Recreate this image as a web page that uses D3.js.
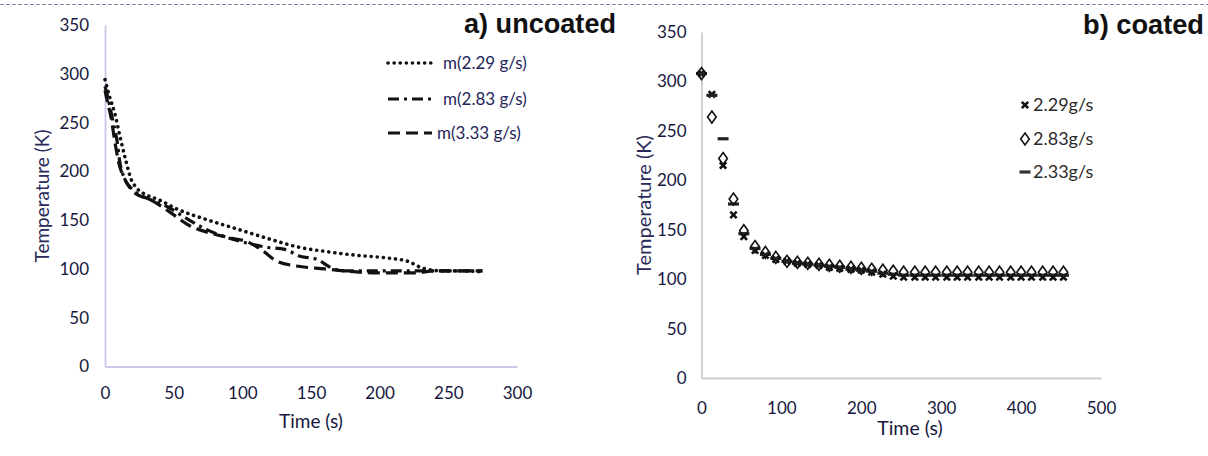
<!DOCTYPE html>
<html><head><meta charset="utf-8">
<script src="https://cdn.jsdelivr.net/npm/d3@7"></script>
<style>
html,body{margin:0;padding:0;background:#fff;}
svg{display:block;}
</style></head>
<body>
<svg id="c" width="1208" height="456"></svg>
<script>
// ---------- Panel a) uncoated : line data ----------
const aTimes229 = [0, 3, 7, 11.5, 15, 19, 23, 30, 39, 53, 73, 96, 119, 142, 160, 183, 207, 220, 231, 245, 260, 275];
const aTemps229 = [294, 278, 260, 232, 212, 192, 183, 176, 171, 161, 151, 141, 131, 122, 118, 114, 111, 108, 101, 98, 98, 97];
const aTimes283 = [0, 3, 6, 9, 10.5, 13, 19, 33, 45, 59, 73, 85, 102, 119, 131, 142, 154, 165, 174, 197, 226, 250, 275];
const aTemps283 = [287, 270, 250, 229, 212, 197, 183, 171, 164, 152, 141, 134, 127, 122, 120, 113, 110, 101, 98, 98, 98, 98, 98];
const aTimes333 = [0, 2, 4.3, 7, 10, 14.4, 21.6, 33, 47.5, 62, 76, 90.6, 105, 113.6, 125, 139.5, 160, 174, 197, 226, 240, 275];
const aTemps333 = [283, 270, 256, 232, 209, 192, 178, 171, 158, 144, 137, 132, 127, 120, 108, 103, 100, 98, 96, 96, 98, 98];
const aLegend = ["m(2.29 g/s)", "m(2.83 g/s)", "m(3.33 g/s)"];
const aXTicks = [0, 50, 100, 150, 200, 250, 300];
const aYTicks = [0, 50, 100, 150, 200, 250, 300, 350];

// ---------- Panel b) coated : scatter data ----------
const bTimes = [0, 13, 27, 40, 53, 67, 80, 93, 107, 120, 133, 147, 160, 173, 187, 200, 213, 227, 240, 253, 267, 280, 293, 307, 320, 333, 347, 360, 373, 387, 400, 413, 427, 440, 453];
const bTemps229 = [308, 287, 215, 165, 143, 129, 124, 120, 118, 116, 115, 114, 112, 111, 110, 109, 107, 105, 103, 102, 102, 102, 102, 102, 102, 102, 102, 102, 102, 102, 102, 102, 102, 102, 102];
const bTemps283 = [308, 264, 222, 181, 149, 133, 127, 122, 118, 117, 116, 115, 114, 113, 112, 111, 110, 109, 108, 107, 107, 107, 107, 107, 107, 107, 107, 107, 107, 107, 107, 107, 107, 107, 107];
const bTemps233 = [308, 286, 242, 176, 146, 131, 125, 121, 118, 116, 115, 114, 113, 112, 110, 109, 108, 106, 105, 104, 104, 104, 104, 104, 104, 104, 104, 104, 104, 104, 104, 104, 104, 104, 104];
const bLegend = ["2.29g/s", "2.83g/s", "2.33g/s"];
const bXTicks = [0, 100, 200, 300, 400, 500];
const bYTicks = [0, 50, 100, 150, 200, 250, 300, 350];

const svg = d3.select("#c");
const FONT = "Lato, 'Open Sans', sans-serif";
const NAVY = "#17173e";

// top dashed rule
svg.append("line").attr("x1", 0).attr("x2", 1208).attr("y1", 4.5).attr("y2", 4.5)
  .attr("stroke", "#7a88a6").attr("stroke-width", 1).attr("stroke-dasharray", "4,2");

function styleAxis(g, color) {
  g.select(".domain").attr("stroke", color).attr("stroke-width", 1.8);
  g.selectAll(".tick line").remove();
  g.selectAll(".tick text").attr("fill", NAVY).attr("font-size", 17).attr("font-family", FONT);
}

// ================= Panel a =================
const ax = d3.scaleLinear().domain([0, 300]).range([105, 517]);
const ay = d3.scaleLinear().domain([0, 350]).range([366.5, 25]);
const ga = svg.append("g");

ga.append("g").attr("transform", `translate(0,${ay(0)})`)
  .call(d3.axisBottom(ax).tickValues(aXTicks).tickSize(0).tickPadding(20).tickSizeOuter(0))
  .call(g => styleAxis(g, "#c9c9ec"));
ga.append("g").attr("transform", `translate(${ax(0)},0)`)
  .call(d3.axisLeft(ay).tickValues(aYTicks).tickSize(0).tickPadding(16).tickSizeOuter(0))
  .call(g => styleAxis(g, "#c9c9ec"));

const aLine = d3.line().x(d => ax(d[0])).y(d => ay(d[1])).curve(d3.curveMonotoneX);
const aSeries = [
  {t: aTimes229, v: aTemps229, dash: "0.1,6", cap: "round", w: 3.6},
  {t: aTimes283, v: aTemps283, dash: "11,5,3,5", cap: "butt", w: 3.2},
  {t: aTimes333, v: aTemps333, dash: "12,6", cap: "butt", w: 3.2}
];
aSeries.forEach(s => {
  ga.append("path").datum(d3.zip(s.t, s.v)).attr("d", aLine)
    .attr("fill", "none").attr("stroke", "#111").attr("stroke-width", s.w)
    .attr("stroke-dasharray", s.dash).attr("stroke-linecap", s.cap);
});

// legend a
const aLegY = [63, 99, 133];
aSeries.forEach((s, i) => {
  ga.append("line").attr("x1", 388).attr("x2", 432).attr("y1", aLegY[i]).attr("y2", aLegY[i])
    .attr("stroke", "#111").attr("stroke-width", s.w).attr("stroke-dasharray", s.dash).attr("stroke-linecap", s.cap);
  ga.append("text").attr("x", i === 2 ? 437 : 443).attr("y", aLegY[i]).attr("dy", "0.35em")
    .attr("font-family", FONT).attr("font-size", 17).attr("fill", "#24245a").text(aLegend[i]);
});

ga.append("text").attr("transform", `translate(49,196) rotate(-90)`).attr("text-anchor", "middle")
  .attr("font-family", FONT).attr("font-size", 19).attr("fill", "#2a2a5a").text("Temperature (K)");
ga.append("text").attr("x", 311).attr("y", 421).attr("dy", "0.35em").attr("text-anchor", "middle")
  .attr("font-family", FONT).attr("font-size", 19).attr("fill", NAVY).text("Time (s)");
ga.append("text").attr("x", 464).attr("y", 33).attr("textLength", 152).attr("lengthAdjust", "spacingAndGlyphs")
  .attr("font-family", "'Liberation Sans', Arial, sans-serif").attr("font-weight", "bold")
  .attr("font-size", 27).attr("fill", "#111").text("a) uncoated");

// ================= Panel b =================
const bx = d3.scaleLinear().domain([0, 500]).range([701.5, 1101]);
const by = d3.scaleLinear().domain([0, 350]).range([378, 32]);
const gb = svg.append("g");

gb.append("g").attr("transform", `translate(0,${by(0)})`)
  .call(d3.axisBottom(bx).tickValues(bXTicks).tickSize(0).tickPadding(24).tickSizeOuter(0))
  .call(g => styleAxis(g, "#cdcdcd"));
gb.append("g").attr("transform", `translate(${bx(0)},0)`)
  .call(d3.axisLeft(by).tickValues(bYTicks).tickSize(0).tickPadding(15).tickSizeOuter(0))
  .call(g => styleAxis(g, "#cdcdcd"));

const xMark = "M-3.2,-3.2L3.2,3.2M3.2,-3.2L-3.2,3.2";
const diamond = "M0,-6L4.3,0L0,6L-4.3,0Z";
const dashMark = "M-5.5,0L5.5,0";

function drawMarks(vals, shape, stroke, sw) {
  gb.append("g").selectAll("path").data(d3.zip(bTimes, vals)).join("path")
    .attr("transform", d => `translate(${bx(d[0])},${by(d[1])})`)
    .attr("d", shape).attr("fill", "none").attr("stroke", stroke).attr("stroke-width", sw);
}
drawMarks(bTemps229, xMark, "#111", 2.6);
drawMarks(bTemps233, dashMark, "#222", 3.2);
drawMarks(bTemps283, diamond, "#111", 1.6);

// legend b
const bLegY = [105, 139, 172];
const bShapes = [[xMark, "#111", 2.6], [diamond, "#111", 1.6], [dashMark, "#333", 3.2]];
bShapes.forEach((s, i) => {
  gb.append("path").attr("transform", `translate(1025,${bLegY[i]})`).attr("d", s[0])
    .attr("fill", "none").attr("stroke", s[1]).attr("stroke-width", s[2]);
  gb.append("text").attr("x", 1033).attr("y", bLegY[i]).attr("dy", "0.35em")
    .attr("font-family", FONT).attr("font-size", 18).attr("fill", "#2a2a2a").text(bLegend[i]);
});

gb.append("text").attr("transform", `translate(651,205) rotate(-90)`).attr("text-anchor", "middle")
  .attr("font-family", FONT).attr("font-size", 20).attr("fill", "#2a2a5a").text("Temperature (K)");
gb.append("text").attr("x", 910).attr("y", 428).attr("dy", "0.35em").attr("text-anchor", "middle")
  .attr("font-family", FONT).attr("font-size", 19.5).attr("fill", NAVY).text("Time (s)");
gb.append("text").attr("x", 1083).attr("y", 34).attr("textLength", 121).attr("lengthAdjust", "spacingAndGlyphs")
  .attr("font-family", "'Liberation Sans', Arial, sans-serif").attr("font-weight", "bold")
  .attr("font-size", 27).attr("fill", "#111").text("b) coated");
</script>
</body></html>
